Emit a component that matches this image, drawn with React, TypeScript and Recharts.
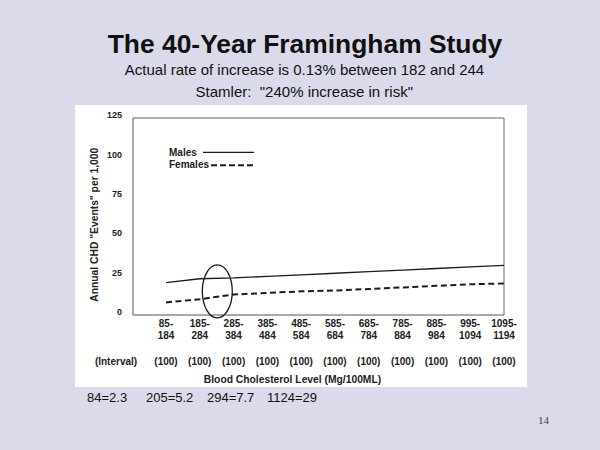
import React from 'react';
import { LineChart, Line, XAxis, YAxis, ReferenceDot, Legend, CartesianGrid } from 'recharts';

// cholesterol intervals (mg/100ml) and annual CHD events per 1,000
const intervals = ['85-184', '185-284', '285-384', '385-484', '485-584', '585-684', '685-784', '785-884', '885-984', '995-1094', '1095-1194'];
const intervalWidths = ['(100)', '(100)', '(100)', '(100)', '(100)', '(100)', '(100)', '(100)', '(100)', '(100)', '(100)'];
const males = [20.5, 23, 23.5, 24.5, 25.5, 26.5, 27.5, 28.5, 29.5, 30.5, 31.5];
const females = [8, 10, 13, 14, 15, 15.5, 16.5, 17.5, 18.5, 19.5, 20];
const yTicks = [0, 25, 50, 75, 100, 125];
const notes = ['84=2.3', '205=5.2', '294=7.7', '1124=29'];

const data = intervals.map((interval, i) => ({
  interval,
  width: intervalWidths[i],
  males: males[i],
  females: females[i],
}));

const SANS = '"Liberation Sans", Arial, sans-serif';
const INK = '#1c1c1c';

const XTick = (props: any) => {
  const { x, y, payload, index } = props;
  const [lo, hi] = String(payload.value).split('-');
  const style = { fontFamily: SANS, fontSize: 10, fontWeight: 700, fill: '#222' };
  return (
    <g>
      <text x={x} y={y + 12.3} textAnchor="middle" {...style}>{lo + '-'}</text>
      <text x={x} y={y + 24.3} textAnchor="middle" {...style}>{hi}</text>
      <text x={x} y={y + 50} textAnchor="middle" {...style}>{intervalWidths[index]}</text>
    </g>
  );
};

const YTick = (props: any) => {
  const { x, y, payload } = props;
  return (
    <text x={x} y={y + 0.2} textAnchor="end" fontFamily={'"Liberation Sans Narrow", ' + SANS}
      fontSize={9} fontWeight={700} fill="#222">
      {payload.value}
    </text>
  );
};

const LegendBox = () => (
  <svg width={100} height={30} style={{ display: 'block' }}>
    <text x={4} y={12} fontFamily={SANS} fontSize={10} fontWeight={700} fill="#222">Males</text>
    <line x1={38} x2={89} y1={8.3} y2={8.3} stroke={INK} strokeWidth={1.3} />
    <text x={4} y={24.3} fontFamily={SANS} fontSize={10} fontWeight={700} fill="#222">Females</text>
    <line x1={46} x2={89} y1={21.3} y2={21.3} stroke={INK} strokeWidth={2} strokeDasharray="6 3" />
  </svg>
);

const Ellipse = (props: any) => (
  <ellipse cx={props.cx + 17.5} cy={props.cy} rx={15} ry={26.5} fill="none" stroke={INK} strokeWidth={1.3} />
);

export default function App() {
  return (
    <div style={{ position: 'absolute', left: 0, top: 0, width: 600, height: 450 }}>
      <svg width={600} height={450} style={{ position: 'absolute', left: 0, top: 0 }}>
        <rect x={0} y={0} width={600} height={450} fill="#dadaea" />
        <rect x={75} y={105} width={452} height={282} fill="#ffffff" />
        <text x={305} y={52.7} textAnchor="middle" fontFamily={SANS} fontSize={26.4} fontWeight={700} fill="#111">
          The 40-Year Framingham Study
        </text>
        <text x={304.5} y={75} textAnchor="middle" fontFamily={SANS} fontSize={15} fill="#111">
          Actual rate of increase is 0.13% between 182 and 244
        </text>
        <text x={304.3} y={97} textAnchor="middle" fontFamily={SANS} fontSize={15} fill="#111" style={{ whiteSpace: 'pre' }}>
          {'Stamler:  "240% increase in risk"'}
        </text>
        {notes.map((n, i) => (
          <text key={n} x={[87, 146, 207, 267][i]} y={402} fontFamily={SANS} fontSize={13} fill="#111">{n}</text>
        ))}
        <text x={543.5} y={424} textAnchor="middle" fontFamily={'"Liberation Serif", serif'} fontSize={11} fill="#444">14</text>
        <text x={97.7} y={224.7} transform="rotate(-90 97.7 224.7)" textAnchor="middle" fontFamily={SANS}
          fontSize={10.3} fontWeight={700} fill="#222">
          Annual CHD "Events" per 1,000
        </text>
        <text x={116} y={365} textAnchor="middle" fontFamily={SANS} fontSize={10} fontWeight={700} fill="#222">(Interval)</text>
        <text x={292.5} y={382.5} textAnchor="middle" fontFamily={SANS} fontSize={10.3} fontWeight={700} fill="#222">
          Blood Cholesterol Level (Mg/100ML)
        </text>
      </svg>
      <div style={{ position: 'absolute', left: 0, top: 0 }}>
        <LineChart width={600} height={450} data={data} margin={{ top: 118, right: 96, bottom: 65, left: 93 }}>
          {/* top and right edges of the frame */}
          <CartesianGrid stroke="#666" strokeWidth={1} horizontalValues={[125]} verticalValues={['1095-1194']} />
          <XAxis dataKey="interval" height={70} tickSize={0} tickMargin={0} interval={0} padding={{ left: 33, right: 0 }}
            axisLine={{ stroke: '#555' }} tick={<XTick />} />
          <YAxis domain={[0, 125]} ticks={yTicks} width={40} tickSize={0} tickMargin={11} interval={0}
            axisLine={{ stroke: '#555' }} tick={<YTick />} />
          <Legend verticalAlign="middle" align="center" layout="horizontal" content={<LegendBox />}
            wrapperStyle={{ left: 165, top: 144, width: 100 }} />
          <Line dataKey="males" type="linear" stroke={INK} strokeWidth={1.3} dot={false} isAnimationActive={false} />
          <Line dataKey="females" type="linear" stroke={INK} strokeWidth={2} strokeDasharray="6 3.5" dot={false} isAnimationActive={false} />
          <ReferenceDot x="185-284" y={15} ifOverflow="visible" shape={<Ellipse />} />
        </LineChart>
      </div>
    </div>
  );
}
